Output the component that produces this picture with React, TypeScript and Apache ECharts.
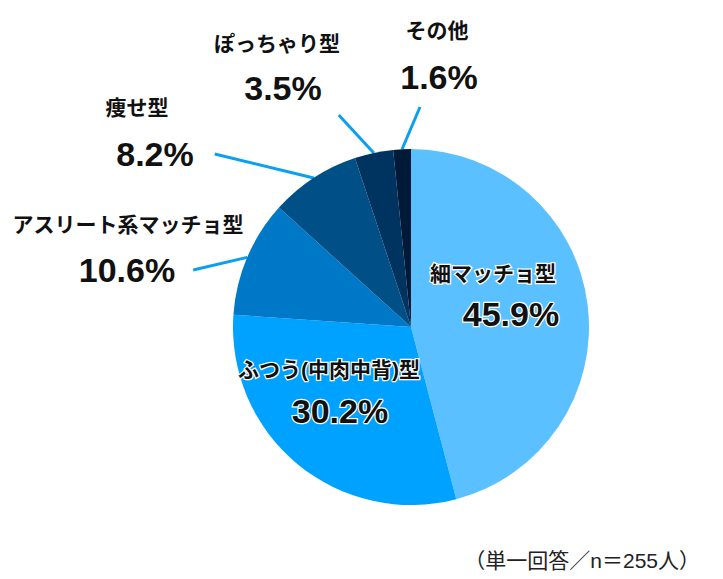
import React, { useEffect, useRef } from "react";
import * as echarts from "echarts";

const categories = ["細マッチョ型", "ふつう(中肉中背)型", "アスリート系マッチョ型", "痩せ型", "ぽっちゃり型", "その他"];
const values = [45.9, 30.2, 10.6, 8.2, 3.5, 1.6];
const colors = ["#5bc0ff", "#00a2ff", "#0078c8", "#004f86", "#003460", "#001a38"];
const insideIdx = [0, 1];
const footnote = "（単一回答／n＝255人）";

// label positions (box anchors) for value labels and name labels
const valuePos = [
  { x: 511, y: 314, va: "middle", pad: [0, 0, 0, 0] },
  { x: 340, y: 411, va: "middle", pad: [0, 0, 0, 0] },
  { x: 136, y: 270, va: "middle", pad: [0, 18, 0, 0] },
  { x: 165.5, y: 154, va: "middle", pad: [0, 21, 0, 0] },
  { x: 291.5, y: 71, va: "top", pad: [0, 17, 54, 0] },
  { x: 420, y: 60, va: "top", pad: [0, 0, 13, 38] },
];
const namePos = [
  { x: 493, y: 273 },
  { x: 329, y: 369 },
  { x: 128, y: 224 },
  { x: 137, y: 107 },
  { x: 277, y: 43 },
  { x: 437, y: 30 },
];

const FONT = "'Liberation Sans', 'Noto Sans CJK JP', sans-serif";

export default function App() {
  const ref = useRef<HTMLDivElement>(null);
  useEffect(() => {
    document.body.style.margin = "0";
    const chart = echarts.init(ref.current!, null, { renderer: "svg" });
    const center = [411, 327];
    const radius = 178;
    const valueData = categories.map((name, i) => {
      const inside = insideIdx.includes(i);
      return {
        name,
        value: values[i],
        itemStyle: { color: colors[i] },
        label: {
          padding: valuePos[i].pad,
          backgroundColor: "rgba(255,255,255,0)",
          ...(inside ? { textBorderColor: "#ffffff", textBorderWidth: 2.5 } : {}),
        },
        labelLine: { show: !inside },
      };
    });
    const nameData = categories.map((name, i) => {
      const inside = insideIdx.includes(i);
      return {
        name,
        value: values[i],
        label: inside ? { textBorderColor: "#ffffff", textBorderWidth: 2.5 } : {},
      };
    });
    chart.setOption({
      animation: false,
      backgroundColor: "#ffffff",
      series: [
        {
          type: "pie",
          center,
          radius,
          startAngle: 90,
          clockwise: true,
          avoidLabelOverlap: false,
          silent: true,
          itemStyle: { borderWidth: 0 },
          label: {
            show: true,
            position: "outside",
            formatter: (p: any) => p.value.toFixed(1) + "%",
            fontFamily: FONT,
            fontWeight: "bold",
            fontSize: 34,
            color: "#111111",
          },
          labelLine: {
            show: true,
            length: 10,
            length2: 0,
            lineStyle: { color: "#0aa0f2", width: 3 },
          },
          labelLayout: (params: any) => {
            const p = valuePos[params.dataIndex];
            return { x: p.x, y: p.y, align: "center", verticalAlign: p.va };
          },
          data: valueData,
        },
        {
          type: "pie",
          center,
          radius,
          startAngle: 90,
          clockwise: true,
          avoidLabelOverlap: false,
          silent: true,
          itemStyle: { color: "rgba(0,0,0,0)", borderWidth: 0 },
          label: {
            show: true,
            position: "outside",
            formatter: "{b}",
            fontFamily: FONT,
            fontWeight: "bold",
            fontSize: 21,
            color: "#111111",
          },
          labelLine: { show: false },
          labelLayout: (params: any) => {
            const p = namePos[params.dataIndex];
            return { x: p.x, y: p.y, align: "center", verticalAlign: "middle" };
          },
          data: nameData,
        },
      ],
      graphic: [
        {
          type: "text",
          right: 23,
          top: 550,
          style: {
            text: footnote,
            fontFamily: FONT,
            fontSize: 21,
            fill: "#222222",
          },
        },
      ],
    });
    return () => chart.dispose();
  }, []);
  return <div ref={ref} style={{ width: 723, height: 579 }} />;
}
